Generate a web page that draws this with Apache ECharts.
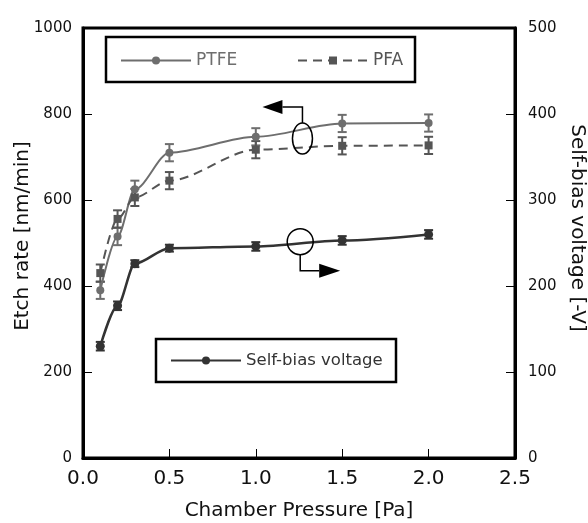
<!DOCTYPE html>
<html>
<head>
<meta charset="utf-8">
<script src="https://cdn.jsdelivr.net/npm/echarts@6/dist/echarts.min.js"></script>
<style>
html,body{margin:0;padding:0;background:#fff;}
#c{width:588px;height:523px;}
</style>
</head>
<body>
<div id="c"></div>
<script>
var pressure = [0.1, 0.2, 0.3, 0.5, 1.0, 1.5, 2.0];
var ptfe = [390, 515, 625, 710, 747, 778, 779];
var ptfeErr = [20, 20, 20, 20, 20, 20, 20];
var pfa = [430, 556, 606, 645, 717, 726, 727];
var pfaErr = [20, 20, 20, 20, 20, 20, 20];
var bias = [130, 177, 226, 244, 246, 253, 260];
var biasErr = [5, 5, 4, 4, 5, 5, 5];
var xTicks = [0, 0.5, 1.0, 1.5, 2.0, 2.5];
var leftTicks = [0, 200, 400, 600, 800, 1000];
var rightTicks = [0, 100, 200, 300, 400, 500];

var FONT = 'DejaVu Sans';
var cPTFE = '#6e6e6e', cPFA = '#555555', cBias = '#333333';

function pairs(xs, ys){ return xs.map(function(x,i){ return [x, ys[i]]; }); }
function errData(xs, ys, es){ return xs.map(function(x,i){ return [x, ys[i]-es[i], ys[i]+es[i]]; }); }
function errSeries(name, data, yIdx, color){
  return {
    type: 'custom', name: name, yAxisIndex: yIdx, silent: true, z: 3,
    data: data,
    renderItem: function(params, api){
      var lo = api.coord([api.value(0), api.value(1)]);
      var hi = api.coord([api.value(0), api.value(2)]);
      var w = 4.5;
      var st = {stroke: color, lineWidth: 2};
      return {type:'group', children:[
        {type:'line', shape:{x1:lo[0],y1:lo[1],x2:hi[0],y2:hi[1]}, style:st},
        {type:'line', shape:{x1:lo[0]-w,y1:lo[1],x2:lo[0]+w,y2:lo[1]}, style:st},
        {type:'line', shape:{x1:hi[0]-w,y1:hi[1],x2:hi[0]+w,y2:hi[1]}, style:st}
      ]};
    }
  };
}
function plain(v){ return String(v); }

var chart = echarts.init(document.getElementById('c'));
var option = {
  backgroundColor: '#fff',
  animation: false,
  textStyle: {fontFamily: FONT},
  grid: {left: 83, right: 73, top: 28, bottom: 65, containLabel: false, outerBoundsMode: 'none',
         show: true, borderColor: '#000', borderWidth: 3, backgroundColor: 'transparent'},
  xAxis: {
    type: 'value', min: xTicks[0], max: xTicks[xTicks.length-1], interval: 0.5,
    name: 'Chamber Pressure [Pa]', nameLocation: 'middle', nameGap: 43, nameMoveOverlap: false,
    nameTextStyle: {fontSize: 20, color: '#111', fontFamily: FONT},
    axisLine: {show: true, lineStyle: {color: '#000', width: 3}},
    axisTick: {inside: true, length: 9, lineStyle: {color: '#000', width: 1}},
    axisLabel: {fontSize: 20, color: '#111', margin: 11, fontFamily: FONT, formatter: function(v){ return v.toFixed(1); }},
    splitLine: {show: false}
  },
  yAxis: [{
    type: 'value', min: leftTicks[0], max: leftTicks[leftTicks.length-1], interval: 200, position: 'left',
    name: 'Etch rate [nm/min]', nameLocation: 'middle', nameGap: 50, nameMoveOverlap: false,
    nameTextStyle: {fontSize: 20, color: '#111', fontFamily: FONT, padding: [0, 0, 0, 14]},
    axisLine: {show: true, lineStyle: {color: '#000', width: 3}},
    axisTick: {show: true, inside: true, length: 9, lineStyle: {color: '#000', width: 1}},
    axisLabel: {fontSize: 15, color: '#111', margin: 11, fontFamily: FONT, formatter: plain},
    splitLine: {show: false}
  }, {
    type: 'value', min: rightTicks[0], max: rightTicks[rightTicks.length-1], interval: 100, position: 'right',
    name: 'Self-bias voltage [-V]', nameLocation: 'middle', nameGap: 52, nameRotate: -90, nameMoveOverlap: false,
    nameTextStyle: {fontSize: 20, color: '#111', fontFamily: FONT, padding: [0, 30, 0, 0]},
    axisLine: {show: true, lineStyle: {color: '#000', width: 3}},
    axisTick: {show: true, inside: true, length: 9, lineStyle: {color: '#000', width: 1}},
    axisLabel: {fontSize: 15, color: '#111', margin: 13, fontFamily: FONT, formatter: plain},
    splitLine: {show: false}
  }],
  legend: [{
    data: ['PTFE'], left: 120, top: 52, padding: 0, itemWidth: 70, itemHeight: 10, selectedMode: false,
    textStyle: {fontSize: 17, color: cPTFE, fontFamily: FONT}
  }, {
    data: ['PFA'], left: 297, top: 52, padding: 0, itemWidth: 70, itemHeight: 10, selectedMode: false,
    textStyle: {fontSize: 17, color: cPFA, fontFamily: FONT}
  }, {
    data: ['Self-bias voltage'], left: 170, top: 352, padding: 0, itemWidth: 70, itemHeight: 10, selectedMode: false,
    textStyle: {fontSize: 16.5, color: cBias, fontFamily: FONT}
  }],
  series: [
    errSeries('ptfeErr', errData(pressure, ptfe, ptfeErr), 0, cPTFE),
    errSeries('pfaErr', errData(pressure, pfa, pfaErr), 0, cPFA),
    errSeries('biasErr', errData(pressure, bias, biasErr), 1, cBias),
    {name: 'PTFE', type: 'line', yAxisIndex: 0, data: pairs(pressure, ptfe), smooth: 0.3, smoothMonotone: 'x',
     symbol: 'circle', symbolSize: 8, z: 4,
     lineStyle: {color: cPTFE, width: 2}, itemStyle: {color: cPTFE}},
    {name: 'PFA', type: 'line', yAxisIndex: 0, data: pairs(pressure, pfa), smooth: 0.3, smoothMonotone: 'x',
     symbol: 'rect', symbolSize: 8, z: 4,
     lineStyle: {color: cPFA, width: 2, type: [9, 6]}, itemStyle: {color: cPFA}},
    {name: 'Self-bias voltage', type: 'line', yAxisIndex: 1, data: pairs(pressure, bias), smooth: 0.3, smoothMonotone: 'x',
     symbol: 'circle', symbolSize: 9, z: 4,
     lineStyle: {color: cBias, width: 2.5}, itemStyle: {color: cBias}}
  ]
};
chart.setOption(option);

// annotations anchored in data space
var etchMark = chart.convertToPixel({xAxisIndex: 0, yAxisIndex: 0}, [1.27, 743]);
var biasMark = chart.convertToPixel({xAxisIndex: 0, yAxisIndex: 1}, [1.257, 251.5]);
var ex = etchMark[0], ey = etchMark[1], erx = 10, ery = 15.5;
var bx = biasMark[0], by = biasMark[1], br = 13;
var ls = {stroke: '#000', lineWidth: 1.5, fill: null};
chart.setOption({
  graphic: [
    {type: 'rect', shape: {x: 106, y: 37, width: 309, height: 45}, style: {stroke: '#000', lineWidth: 2.5, fill: null}, z: 1},
    {type: 'rect', shape: {x: 156, y: 339, width: 240, height: 43}, style: {stroke: '#000', lineWidth: 2.5, fill: null}, z: 1},
    {type: 'ellipse', shape: {cx: ex, cy: ey, rx: erx, ry: ery}, style: ls, z: 10},
    {type: 'polyline', shape: {points: [[ex, ey-ery], [ex, ey-ery-16], [ex-20, ey-ery-16]]}, style: ls, z: 10},
    {type: 'polygon', shape: {points: [[ex-20, ey-ery-23], [ex-20, ey-ery-9], [ex-40, ey-ery-16]]}, style: {fill: '#000'}, z: 10},
    {type: 'circle', shape: {cx: bx, cy: by, r: br}, style: ls, z: 10},
    {type: 'polyline', shape: {points: [[bx, by+br], [bx, by+br+16], [bx+19, by+br+16]]}, style: ls, z: 10},
    {type: 'polygon', shape: {points: [[bx+19, by+br+9], [bx+19, by+br+23], [bx+40, by+br+16]]}, style: {fill: '#000'}, z: 10}
  ]
});
</script>
</body>
</html>
